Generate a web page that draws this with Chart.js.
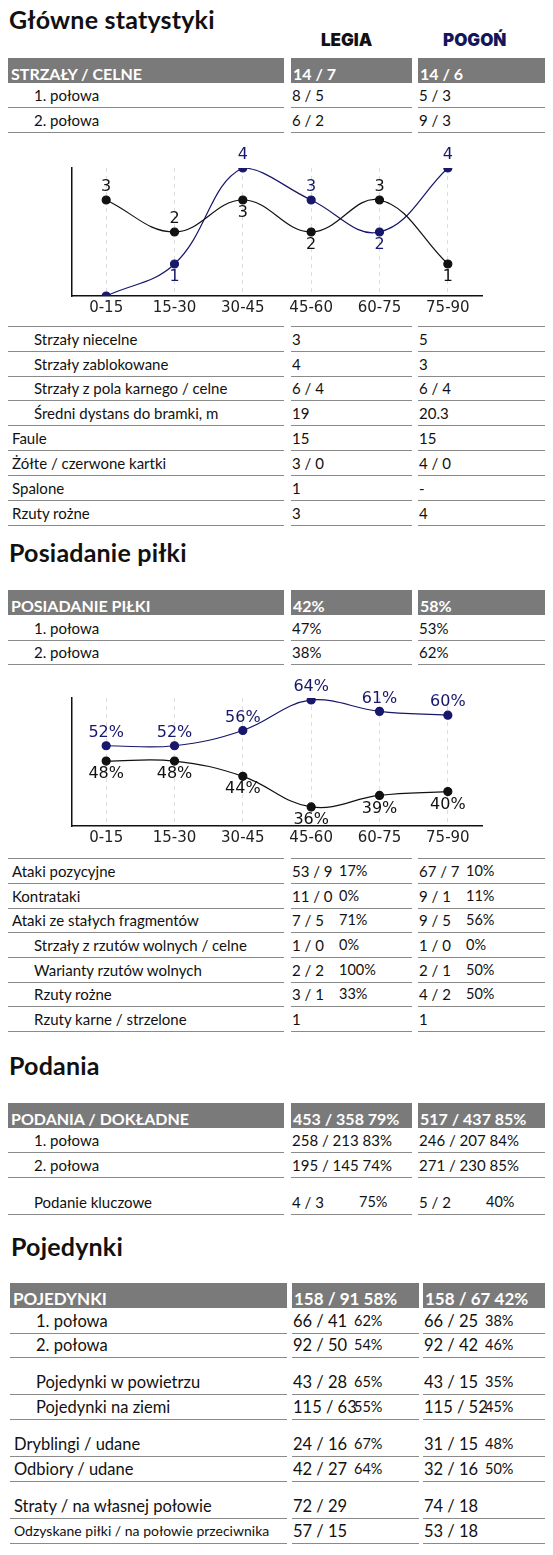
<!DOCTYPE html>
<html><head><meta charset="utf-8">
<script src="https://cdn.jsdelivr.net/npm/chart.js@4"></script>
<style>
body{margin:0;width:553px;height:1555px;position:relative;background:#fff;font-family:Lato,"Open Sans",sans-serif;color:#111;overflow:hidden}
.t{position:absolute;font-size:25px;font-weight:bold;left:9px;letter-spacing:0.2px}
.team{position:absolute;font-family:Inter,sans-serif;font-weight:900;font-size:17px}
.c{position:absolute;height:24px;border-bottom:1.5px solid #8a8a8a;font-size:15px;line-height:24px;white-space:nowrap}
.h{position:absolute;height:25px;background:#7a7a7a;color:#fff;font-weight:bold;font-size:16px;line-height:32px;white-space:nowrap;overflow:hidden}
.p{position:absolute;top:0}
canvas{position:absolute}
</style></head><body>
<div class="t" style="top:4px">Główne statystyki</div>
<div class="team" style="left:321px;top:30px;color:#111">LEGIA</div>
<div class="team" style="left:443px;top:30px;color:#15155a">POGOŃ</div>
<div class="t" style="top:537px">Posiadanie piłki</div>
<div class="t" style="top:1050px">Podania</div>
<div class="t" style="top:1231px;left:11px">Pojedynki</div>
<div id="tables"></div>
<div style="position:absolute;left:50px;top:145px;width:450px;height:175px"><canvas id="c1"></canvas></div>
<div style="position:absolute;left:50px;top:675px;width:450px;height:175px"><canvas id="c2"></canvas></div>
<script>
const periods = ["0-15","15-30","30-45","45-60","60-75","75-90"];
const shotsLegia = [3,2,3,2,3,1];
const shotsPogon = [0,1,4,3,2,4];
const possLegia = [48,48,44,36,39,40];
const possPogon = [52,52,56,64,61,60];

// [label, indent, legia value, legia pct, pogon value, pogon pct]
const shotsHeader = ["STRZAŁY / CELNE","14 / 7","","14 / 6",""];
const shotsRows = [["1. połowa",1,"8 / 5","","5 / 3",""],["2. połowa",1,"6 / 2","","9 / 3",""]];
const shotsRows2 = [["",0,"","","",""],["Strzały niecelne",1,"3","","5",""],["Strzały zablokowane",1,"4","","3",""],["Strzały z pola karnego / celne",1,"6 / 4","","6 / 4",""],["Średni dystans do bramki, m",1,"19","","20.3",""],["Faule",0,"15","","15",""],["Żółte / czerwone kartki",0,"3 / 0","","4 / 0",""],["Spalone",0,"1","","-",""],["Rzuty rożne",0,"3","","4",""]];
const possHeader = ["POSIADANIE PIŁKI","42%","","58%",""];
const possRows = [["1. połowa",1,"47%","","53%",""],["2. połowa",1,"38%","","62%",""]];
const attackRows = [["",0,"","","",""],["Ataki pozycyjne",0,"53 / 9","17%","67 / 7","10%"],["Kontrataki",0,"11 / 0","0%","9 / 1","11%"],["Ataki ze stałych fragmentów",0,"7 / 5","71%","9 / 5","56%"],["Strzały z rzutów wolnych / celne",1,"1 / 0","0%","1 / 0","0%"],["Warianty rzutów wolnych",1,"2 / 2","100%","2 / 1","50%"],["Rzuty rożne",1,"3 / 1","33%","4 / 2","50%"],["Rzuty karne / strzelone",1,"1","","1",""]];
const passHeader = ["PODANIA / DOKŁADNE","453 / 358 79%","","517 / 437 85%",""];
const passRows = [["1. połowa",1,"258 / 213 83%","","246 / 207 84%",""],["2. połowa",1,"195 / 145 74%","","271 / 230 85%",""],["Podanie kluczowe",1,"4 / 3","75%","5 / 2","40%"]];
const duelHeader = ["POJEDYNKI","158 / 91 58%","","158 / 67 42%",""];
const duelRows = [["1. połowa",1,"66 / 41","62%","66 / 25","38%"],["2. połowa",1,"92 / 50","54%","92 / 42","46%"],["Pojedynki w powietrzu",1,"43 / 28","65%","43 / 15","35%"],["Pojedynki na ziemi",1,"115 / 63","55%","115 / 52","45%"],["Dryblingi / udane",0,"24 / 16","67%","31 / 15","48%"],["Odbiory / udane",0,"42 / 27","64%","32 / 16","50%"],["Straty / na własnej połowie",0,"72 / 29","","74 / 18",""],["Odzyskane piłki / na połowie przeciwnika",0,"57 / 15","","53 / 18",""]];

const T = document.getElementById('tables');
function cell(cls,l,w,top,html,extra){const d=document.createElement('div');d.className=cls;d.style.left=l+'px';d.style.width=w+'px';d.style.top=top+'px';if(extra)d.style.cssText+=extra;d.innerHTML=html;T.appendChild(d);return d;}
const colsA=[[8,276],[291,121],[418,127]], colsB=[[10,277],[292,127],[423,122]];
function header(h,top,cols,fs){const st=fs?'font-size:'+fs+'px':'';cell('h',cols[0][0],cols[0][1],top,'<span style="padding-left:3px">'+h[0]+'</span>',st);cell('h',cols[1][0],cols[1][1],top,'<span style="padding-left:2px">'+h[1]+'</span>',st);cell('h',cols[2][0],cols[2][1],top,'<span style="padding-left:2px">'+h[3]+'</span>',st);}
function rows(rs,bottoms,cols,pctX,fs){rs.forEach((r,i)=>{const top=bottoms[i]-24;const st=fs?'font-size:'+fs+'px':'';
 cell('c',cols[0][0],cols[0][1],top,'<span style="padding-left:'+(r[1]?26:4)+'px">'+r[0]+'</span>',st);
 const a=cell('c',cols[1][0],cols[1][1],top,r[2]?'<span style="padding-left:1px">'+r[2]+'</span>':'',st);
 const b=cell('c',cols[2][0],cols[2][1],top,r[4]?'<span style="padding-left:1px">'+r[4]+'</span>':'',st);
 const px=pctX[i]!==undefined?pctX[i]:pctX[0];
 if(r[3]){const s=document.createElement('span');s.className='p';s.style.left=px+'px';s.style.fontSize='14.5px';s.textContent=r[3];a.appendChild(s);}
 if(r[5]){const s=document.createElement('span');s.className='p';s.style.left=px+'px';s.style.fontSize='14.5px';s.textContent=r[5];b.appendChild(s);}
});}
header(shotsHeader,58,colsA);
rows(shotsRows,[107,132],colsA,[0]);
rows(shotsRows2,[326,351,376,400,425,450,475,500,525],colsA,[0]);
header(possHeader,590,colsA);
rows(possRows,[640,664],colsA,[0]);
rows(attackRows,[858,883,908,932,957,982,1006,1031],colsA,[48]);
header(passHeader,1103,colsA);
rows(passRows,[1152,1177,1214],colsA,[0,0,68]);
header(duelHeader,1283,colsB,17);
rows(duelRows,[1333,1357,1394,1419,1456,1481,1518,1543],colsB,[62],16.5);
[...T.querySelectorAll('.c')].filter(d=>d.textContent.startsWith('Odzyskane')).forEach(d=>d.style.fontSize='14px');

const labelPlugin={id:'vl',afterDatasetsDraw(ch){const ctx=ch.ctx;const ds=ch.data.datasets;ctx.save();ctx.font='16px "DejaVu Sans"';ctx.textAlign='center';ctx.textBaseline='middle';
 ds.forEach((d,di)=>{const other=ds[1-di].data;ch.getDatasetMeta(di).data.forEach((pt,i)=>{const v=d.data[i];if(v===0)return;const above=v>=other[i];ctx.fillStyle=d.borderColor;ctx.fillText(v+(ch.options.pct?'%':''),pt.x,above?pt.y-13:pt.y+13);});});ctx.restore();}};
function mk(id,a,b,min,max,pct){new Chart(document.getElementById(id),{type:'line',plugins:[labelPlugin],
 data:{labels:periods,datasets:[{data:a,borderColor:'#111',backgroundColor:'#111',pointRadius:4,borderWidth:1.2,tension:0.4},{data:b,borderColor:'#17176b',backgroundColor:'#17176b',pointRadius:4,borderWidth:1.2,tension:0.4}]},
 options:{pct,animation:false,responsive:true,maintainAspectRatio:false,events:[],layout:{padding:{left:14,right:18,top:23,bottom:0}},
  plugins:{legend:{display:false},tooltip:{enabled:false}},
  scales:{x:{offset:true,grid:{offset:false,drawTicks:false,color:'#ddd'},border:{color:'#111',width:1.5,dash:[4,4]},ticks:{padding:3,color:'#222',font:{family:'DejaVu Sans',size:15}}},
   y:{min,max,display:true,grid:{display:false},border:{color:'#111',width:1.5},ticks:{display:false}}}}});}
mk('c1',shotsLegia,shotsPogon,0,4,false);
mk('c2',possLegia,possPogon,31,64.5,true);
</script>
</body></html>
